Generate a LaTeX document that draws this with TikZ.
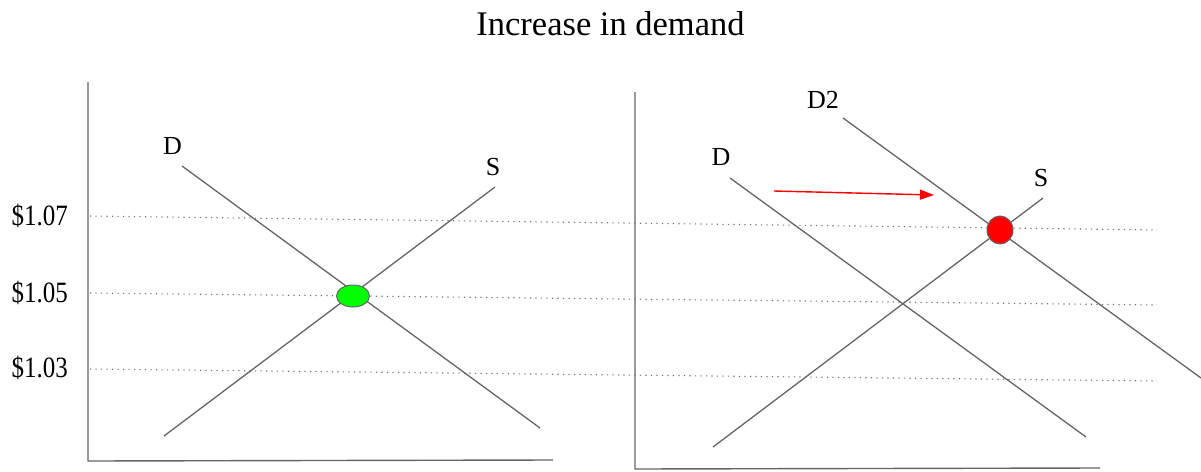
\documentclass[tikz,border=0pt]{standalone}
\usepackage{fontspec}
\setmainfont{Liberation Serif}
\usetikzlibrary{arrows.meta,shapes.geometric}
\begin{document}
\begin{tikzpicture}[x=1pt,y=-1pt,
  curve/.style={draw=black!60,line width=1.3pt},
  axisline/.style={draw=black!60,line width=1.4pt},
  guide/.style={draw=black!55,line width=1.1pt,dash pattern=on 1.1pt off 4.4pt},
  lbl/.style={font=\fontsize{26}{28}\selectfont,inner sep=0pt},
  price/.style={font=\fontsize{25}{27}\selectfont,inner sep=0pt,anchor=east}]
\useasboundingbox[fill=white] (0,0) rectangle (1201,471);
% title
\node[font=\fontsize{34.5}{36}\selectfont,inner sep=0pt] (title) at (610.5,24) {Increase in demand};
% left axes
\coordinate (LAt) at (88,82);
\coordinate (LO) at (88,461);
\coordinate (LAr) at (553,460);
\draw[axisline] (LAt) -- (LO) -- (LAr);
% right axes
\coordinate (RAt) at (635,92);
\coordinate (RO) at (635,469);
\coordinate (RAr) at (1100,468);
\draw[axisline] (RAt) -- (RO) -- (RAr);
% price guides
\coordinate (g7a) at (90,216);  \coordinate (g7b) at (1157,230);
\coordinate (g5a) at (90,293);  \coordinate (g5b) at (1157,305);
\coordinate (g3a) at (90,369);  \coordinate (g3b) at (1157,381);
\draw[guide] (g7a) -- (g7b);
\draw[guide] (g5a) -- (g5b);
\draw[guide] (g3a) -- (g3b);
\node[price] (p7) at (68,216) {\scalebox{1}[1.18]{\$1.07}};
\node[price] (p5) at (68,293) {\scalebox{1}[1.18]{\$1.05}};
\node[price] (p3) at (68,368) {\scalebox{1}[1.18]{\$1.03}};
% left curves
\coordinate (LD1) at (182,166); \coordinate (LD2) at (540,428);
\coordinate (LS1) at (164,436); \coordinate (LS2) at (495,187);
\draw[curve] (LD1) -- (LD2);
\draw[curve] (LS1) -- (LS2);
\node[lbl] (LDl) at (172.5,146) {D};
\node[lbl] (LSl) at (493,167) {S};
\node[draw=black!60,line width=1pt,fill=green,ellipse,minimum width=33pt,minimum height=22pt,inner sep=0pt] (eq1) at (353,296) {};
% right curves
\coordinate (RD1) at (730,178); \coordinate (RD2) at (1086,437);
\coordinate (RD21) at (843,118); \coordinate (RD22) at (1201,378);
\coordinate (RS1) at (713,447); \coordinate (RS2) at (1043,198);
\draw[curve] (RD1) -- (RD2);
\draw[curve] (RD21) -- (RD22);
\draw[curve] (RS1) -- (RS2);
\node[lbl] (RDl) at (721,157) {D};
\node[lbl] (RD2l) at (823,100) {D2};
\node[lbl] (RSl) at (1041,178) {S};
\node[draw=black!60,line width=1pt,fill=red,ellipse,minimum width=26pt,minimum height=28pt,inner sep=0pt] (eq2) at (1000,230) {};
% shift arrow
\coordinate (ar1) at (774,191);
\coordinate (ar2) at (934,195);
\draw[red,line width=1.4pt,-{Triangle[length=14pt,width=10pt]}] (ar1) -- (ar2);
\end{tikzpicture}
\end{document}
